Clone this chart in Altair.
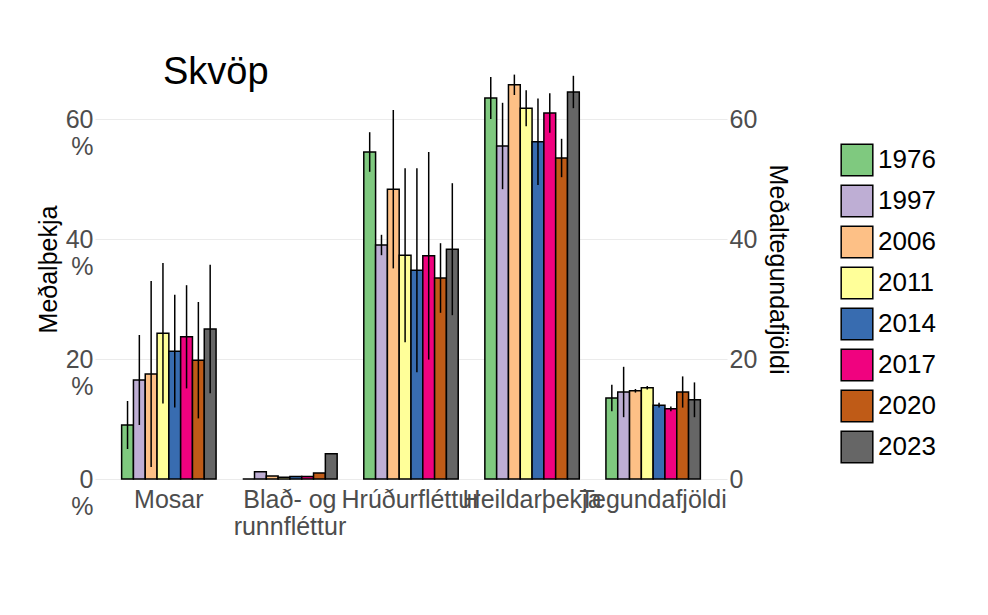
import pandas as pd
import altair as alt

years = ["1976", "1997", "2006", "2011", "2014", "2017", "2020", "2023"]
groups = ["Mosar", "Blað- og runnfléttur", "Hrúðurfléttur", "Heildarþekja", "Tegundafjöldi"]
colors = ["#7fc97f", "#beaed4", "#fdc086", "#ffff99", "#386cb0", "#f0027f", "#bf5b17", "#666666"]

means = {
    "Mosar": [9.0, 16.5, 17.5, 24.3, 21.3, 23.7, 19.8, 25.0],
    "Blað- og runnfléttur": [0.0, 1.2, 0.5, 0.3, 0.4, 0.4, 1.0, 4.2],
    "Hrúðurfléttur": [54.5, 39.0, 48.3, 37.3, 34.8, 37.2, 33.5, 38.3],
    "Heildarþekja": [63.5, 55.5, 65.7, 61.8, 56.2, 61.0, 53.5, 64.5],
    "Tegundafjöldi": [13.5, 14.5, 14.7, 15.2, 12.3, 11.7, 14.5, 13.2],
}
errs = {
    "Mosar": [4.0, 7.5, 15.5, 11.7, 9.4, 8.6, 9.7, 10.7],
    "Blað- og runnfléttur": [None] * 8,
    "Hrúðurfléttur": [3.3, 1.7, 13.2, 14.5, 17.0, 17.3, 5.8, 11.0],
    "Heildarþekja": [3.5, 7.2, 1.7, 3.0, 7.2, 3.3, 3.2, 2.7],
    "Tegundafjöldi": [2.2, 4.2, 0.3, 0.3, 0.4, 0.4, 2.6, 2.9],
}

rows = []
for g in groups:
    for i, yr in enumerate(years):
        e = errs[g][i]
        m = means[g][i]
        rows.append({"hópur": g, "ár": yr, "m": m,
                     "lo": None if e is None else m - e,
                     "hi": None if e is None else m + e})
df = pd.DataFrame(rows)

font = "Liberation Sans"
yscale = alt.Scale(domain=[0, 70], nice=False)
xenc = alt.X("hópur:N", sort=groups, title=None,
             scale=alt.Scale(paddingInner=0.22, paddingOuter=0.22),
             axis=alt.Axis(labelAngle=0, labelFontSize=25, labelColor="#4d4d4d",
                           labelOverlap=False, labelFont=font, ticks=False, domain=False,
                           gridColor="#ebebeb", labelPadding=8,
                           labelExpr="datum.value == 'Blað- og runnfléttur' ? ['Blað- og', 'runnfléttur'] : datum.value"))
xoff = alt.XOffset("ár:N", sort=years, scale=alt.Scale(paddingInner=0, paddingOuter=0))

bars = alt.Chart(df).mark_bar(stroke="black", strokeWidth=1.5).encode(
    x=xenc, xOffset=xoff,
    y=alt.Y("m:Q", scale=yscale, title="Meðalþekja",
            axis=alt.Axis(values=[0, 20, 40, 60], labelFontSize=25, labelColor="#4d4d4d",
                          labelFont=font, titleFont=font, titleFontSize=25,
                          titleFontWeight="normal", ticks=False, domain=False,
                          gridColor="#ebebeb", labelExpr="[datum.value, '    %']")),
    color=alt.Color("ár:N", sort=years, scale=alt.Scale(domain=years, range=colors),
                    legend=alt.Legend(title=None, labelFontSize=26, labelFont=font,
                                      symbolType="square", symbolSize=1000,
                                      symbolStrokeColor="black", symbolStrokeWidth=1.5,
                                      rowPadding=3, orient="none", legendX=745, legendY=84)),
)

err = alt.Chart(df).mark_rule(color="black", strokeWidth=1.5).encode(
    x=alt.X("hópur:N", sort=groups), xOffset=xoff,
    y=alt.Y("lo:Q", scale=yscale), y2="hi:Q",
)

right = alt.Chart(df).mark_point(opacity=0).encode(
    y=alt.Y("m:Q", scale=yscale, title="Meðaltegundafjöldi",
            axis=alt.Axis(orient="right", values=[0, 20, 40, 60], labelFontSize=25,
                          labelColor="#4d4d4d", labelFont=font, titleFont=font,
                          titleFontSize=25, titleFontWeight="normal", titleAngle=90,
                          ticks=False, domain=False, grid=False, titlePadding=8)),
)

title = alt.Chart(pd.DataFrame({"t": ["Skvöp"]})).mark_text(
    font=font, fontSize=38, align="left", baseline="middle").encode(
    text="t:N", x=alt.value(68), y=alt.value(14))

left = alt.layer(bars, err, title)
chart = alt.layer(left, right).resolve_scale(y="independent").properties(
    width=632, height=420, padding={"left": 28, "top": 46, "right": 10, "bottom": 10}
).configure_view(stroke=None)

chart.save("out.html", embed_options={"renderer": "svg", "actions": False})
